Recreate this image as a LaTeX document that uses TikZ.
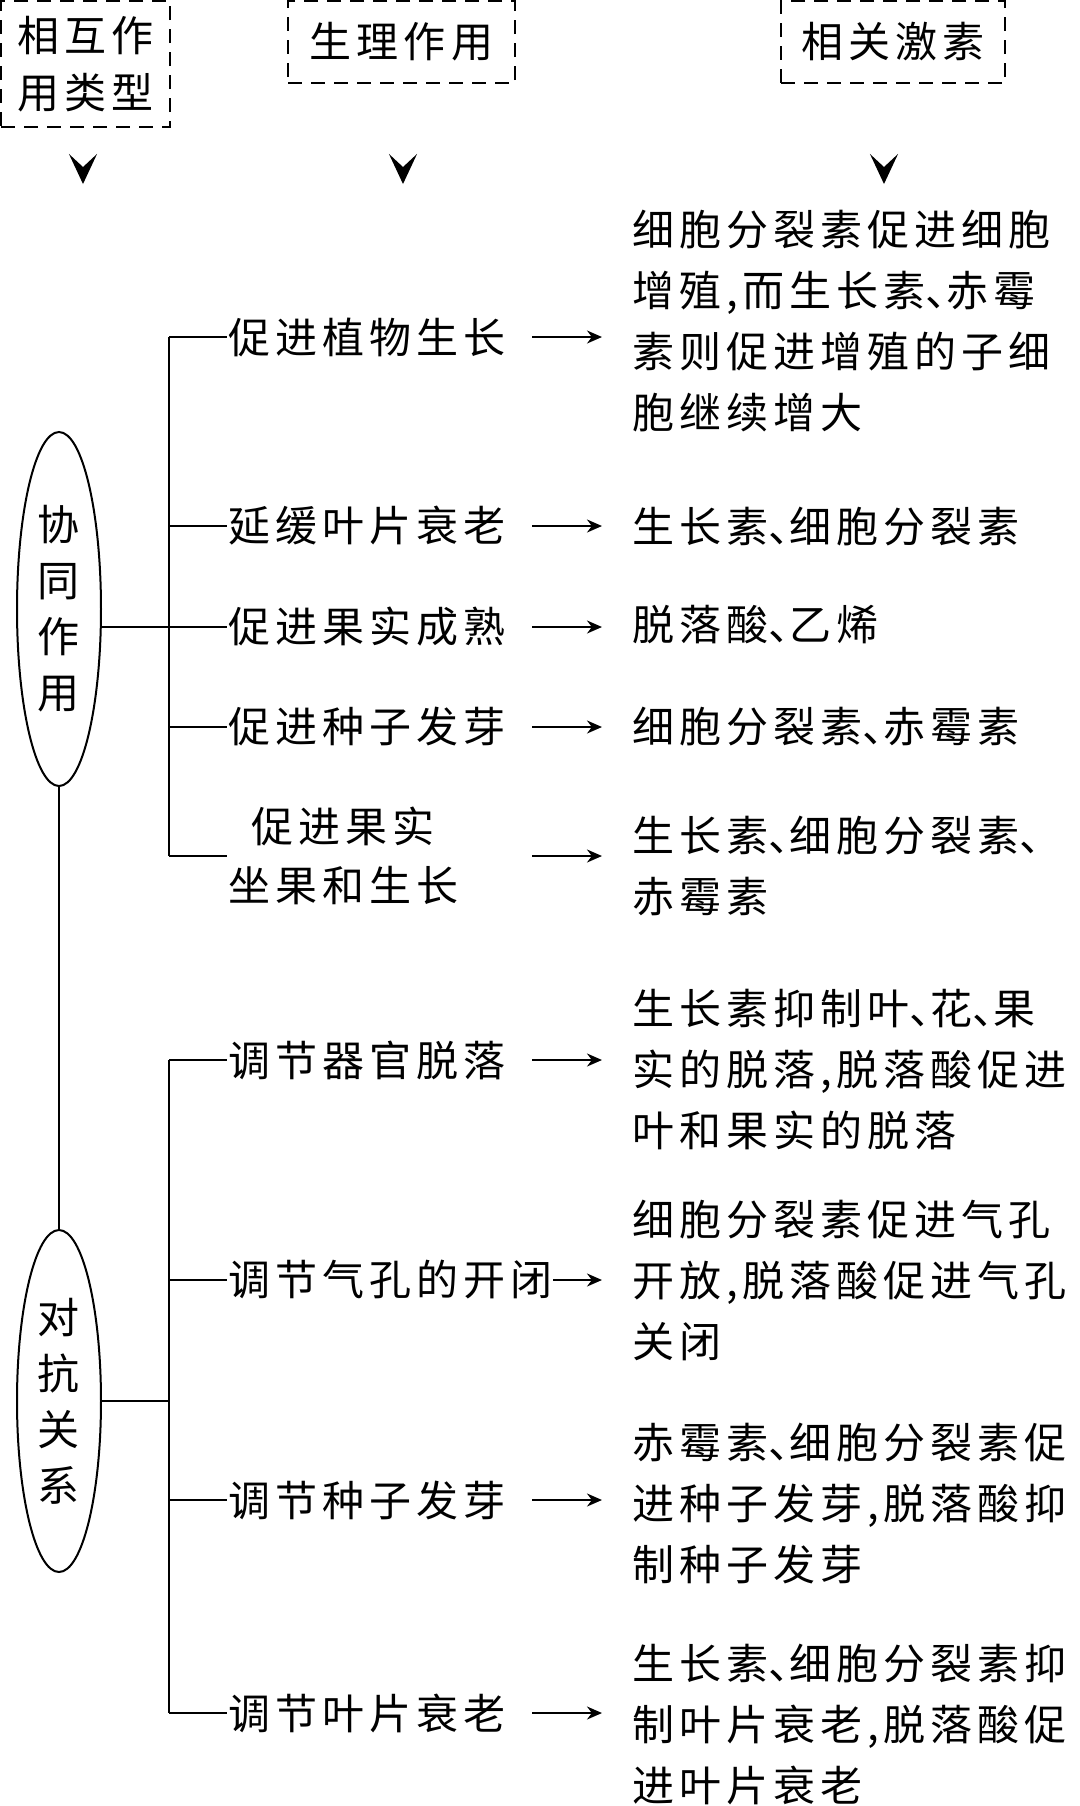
\documentclass[tikz,border=0pt]{standalone}
\usepackage{fontspec}
\setmainfont{Noto Sans CJK SC}[LetterSpace=12]
\usetikzlibrary{arrows.meta,shapes.geometric}

% narrow enumeration comma
\newcommand\dun{\hbox to 0.5em{、\hss}}

\tikzset{
  hdbox/.style={draw, dash pattern=on 7pt off 4.5pt, line width=1.1pt, inner sep=0pt,
    align=center, font=\fontsize{21pt}{28.5pt}\selectfont},
  kind/.style={draw, ellipse, inner sep=0pt, minimum width=42pt, minimum height=177pt,
    align=center, font=\fontsize{21pt}{28pt}\selectfont},
  effect/.style={inner sep=0pt, anchor=west, font=\fontsize{21pt}{29.5pt}\selectfont},
  hormone/.style={inner sep=0pt, anchor=west, align=left, font=\fontsize{21pt}{30.5pt}\selectfont},
  arr/.style={-{Stealth[length=7.5pt,width=6.5pt]}, shorten >=14.5pt},
  chev/.style={-{Stealth[length=15pt,width=14pt,inset=6.5pt]}, shorten <=10pt},
}

\begin{document}
\begin{tikzpicture}[x=0.5pt, y=-0.5pt, line width=1pt]
  \useasboundingbox (0,0) rectangle (1080,1806);

  % column heads
  \node[hdbox, minimum width=84.5pt, minimum height=63pt] (hd1) at (85.5,64) {相互作\\用类型};
  \node[hdbox, minimum width=113.5pt, minimum height=41pt] (hd2) at (401.5,42) {生理作用};
  \node[hdbox, minimum width=112pt, minimum height=41pt] (hd3) at (893,42) {相关激素};
  \foreach \i/\x in {1/83, 2/403, 3/884} {
    \coordinate (v\i) at (\x,153);
    \coordinate (w\i) at (\x,184);
    \draw[chev] (v\i) -- (w\i);
  }

  % kinds of interaction
  \node[kind] (k1) at (59,609) {协\\同\\作\\用};
  \node[kind, minimum height=171pt] (k2) at (59,1401) {对\\抗\\关\\系};
  \draw (k1.south) -- (k2.north);

  % effects
  \node[effect] (e1) at (227,337) {促进植物生长};
  \node[effect] (e2) at (227,526) {延缓叶片衰老};
  \node[effect] (e3) at (227,627) {促进果实成熟};
  \node[effect] (e4) at (227,727) {促进种子发芽};
  \node[effect, align=center] (e5) at (227,856) {促进果实\\坐果和生长};
  \node[effect] (e6) at (227,1060) {调节器官脱落};
  \node[effect] (e7) at (227,1280) {调节气孔的开闭};
  \node[effect] (e8) at (227,1500) {调节种子发芽};
  \node[effect] (e9) at (227,1713) {调节叶片衰老};

  % brackets
  \coordinate (bar) at (169,0);
  \draw (e1.west -| bar) -- (e5.west -| bar);
  \foreach \i in {1,...,5} \draw (e\i.west -| bar) -- (e\i.west);
  \draw (k1.east |- e3.west) -- (e3.west -| bar);
  \draw (e6.west -| bar) -- (e9.west -| bar);
  \foreach \i in {6,...,9} \draw (e\i.west -| bar) -- (e\i.west);
  \draw (k2.east) -- (k2.east -| bar);

  % hormones
  \node[hormone] (h1) at (631,321) {细胞分裂素促进细胞\\增殖,而生长素\dun 赤霉\\素则促进增殖的子细\\胞继续增大};
  \node[hormone] (h2) at (631,527) {生长素\dun 细胞分裂素};
  \node[hormone] (h3) at (631,625) {脱落酸\dun 乙烯};
  \node[hormone] (h4) at (631,727) {细胞分裂素\dun 赤霉素};
  \node[hormone] (h5) at (631,866) {生长素\dun 细胞分裂素\dun\\赤霉素};
  \node[hormone] (h6) at (631,1070) {生长素抑制叶\dun 花\dun 果\\实的脱落,脱落酸促进\\叶和果实的脱落};
  \node[hormone] (h7) at (631,1280) {细胞分裂素促进气孔\\开放,脱落酸促进气孔\\关闭};
  \node[hormone] (h8) at (631,1503) {赤霉素\dun 细胞分裂素促\\进种子发芽,脱落酸抑\\制种子发芽};
  \node[hormone] (h9) at (631,1724) {生长素\dun 细胞分裂素抑\\制叶片衰老,脱落酸促\\进叶片衰老};

  % arrows
  \coordinate (ax) at (532,0);
  \foreach \i in {1,2,3,4,5,6,8,9}
    \draw[arr] (e\i.east -| ax) -- (e\i.east -| h\i.west);
  \draw[arr] (e7.east) -- (e7.east -| h7.west);
\end{tikzpicture}
\end{document}
